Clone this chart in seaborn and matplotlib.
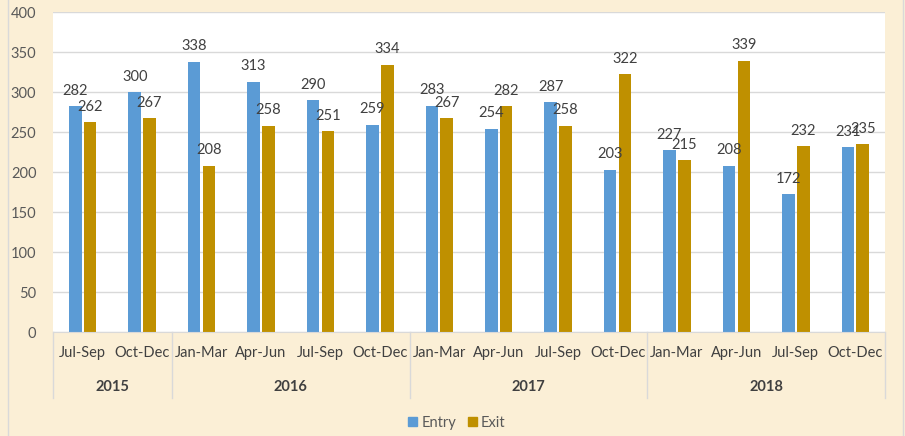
import pandas as pd
import seaborn as sns
import matplotlib.pyplot as plt
import matplotlib.transforms as mtransforms
from matplotlib.patches import Rectangle

years = ['2015', '2015', '2016', '2016', '2016', '2016', '2017', '2017', '2017', '2017',
         '2018', '2018', '2018', '2018']
quarters = ['Jul-Sep', 'Oct-Dec', 'Jan-Mar', 'Apr-Jun', 'Jul-Sep', 'Oct-Dec', 'Jan-Mar',
            'Apr-Jun', 'Jul-Sep', 'Oct-Dec', 'Jan-Mar', 'Apr-Jun', 'Jul-Sep', 'Oct-Dec']
entry = [282, 300, 338, 313, 290, 259, 283, 254, 287, 203, 227, 208, 172, 231]
exit_ = [262, 267, 208, 258, 251, 334, 267, 282, 258, 322, 215, 339, 232, 235]
year_groups = ['2015', '2016', '2017', '2018']

keys = [y + ' ' + q for y, q in zip(years, quarters)]
df = pd.DataFrame({'period': keys * 2,
                   'series': ['Entry'] * len(keys) + ['Exit'] * len(keys),
                   'value': entry + exit_})

bg = '#FBEFD6'
txt = '#404040'
plt.rcParams['font.family'] = ['Lato', 'DejaVu Sans']

fig = plt.figure(figsize=(9.05, 4.36), dpi=100, facecolor=bg)
ax = fig.add_axes([53 / 905, 1 - 332 / 436, 832 / 905, 320 / 436])
ax.set_facecolor('white')

sns.barplot(data=df, x='period', y='value', hue='series', order=keys,
            palette={'Entry': '#5B9BD5', 'Exit': '#BF9000'}, saturation=1,
            width=0.5, gap=0.15, ax=ax, legend=False)

for c in ax.containers:
    ax.bar_label(c, padding=6, fontsize=10.5, color=txt)

ax.set_ylim(0, 400)
ax.set_yticks(range(0, 401, 50))
ax.set_xlim(-0.5, len(keys) - 0.5)
ax.grid(axis='y', color='#D9D9D9', linewidth=1)
ax.set_axisbelow(True)
for s in ['left', 'right', 'top']:
    ax.spines[s].set_visible(False)
ax.spines['bottom'].set_color('#D9D9D9')
ax.tick_params(axis='y', length=0, labelsize=10.5, labelcolor='#595959', pad=12)
ax.tick_params(axis='x', length=0, labelsize=10.5, labelcolor=txt, pad=10)
ax.set_xticks(range(len(keys)))
ax.set_xticklabels(quarters)
ax.set_xlabel('')
ax.set_ylabel('')

# year groups below the quarter labels
trans = mtransforms.blended_transform_factory(ax.transData, ax.transAxes)
bounds = [-0.5]
pos = 0
for y in year_groups:
    n = years.count(y)
    ax.text(pos + (n - 1) / 2, -0.172, y, transform=trans, ha='center', va='center',
            fontsize=10.5, fontweight='bold', color=txt)
    pos += n
    bounds.append(pos - 0.5)
for b in bounds:
    ax.plot([b, b], [0, -0.206], transform=trans, color='#D9D9D9', lw=1, clip_on=False)

# legend
handles = [Rectangle((0, 0), 1, 1, color='#5B9BD5'), Rectangle((0, 0), 1, 1, color='#BF9000')]
fig.legend(handles, ['Entry', 'Exit'], loc='center', bbox_to_anchor=(0.505, 1 - 423 / 436),
           ncol=2, frameon=False, fontsize=10.5, handlelength=0.6, handleheight=0.6,
           handletextpad=0.3, columnspacing=0.8, labelcolor='#595959')

# chart frame
fig.patches.append(Rectangle((8 / 905, -0.01), 895 / 905, 1.02, transform=fig.transFigure,
                             fill=False, edgecolor='#D9D9D9', lw=1))

fig.savefig('out.png', dpi=100, facecolor=bg)
